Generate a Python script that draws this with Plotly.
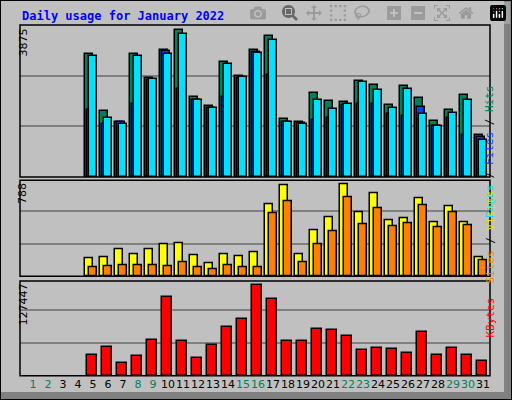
import plotly.graph_objects as go

days = list(range(1, 32))
hits = [None] * 4 + [3230, 1740, 1450, 3230, 2600, 3335, 3860, 2105, 1870, 3020, 2655, 3335,
                     3690, 1510, 1430, 2210, 2000, 1975, 2525, 2420, 1895, 2395, 2080, 1475,
                     1765, 2155, 1110]
files = [None] * 4 + [1750, 1400, 1430, 1900, 2530, 3300, 2310, 2010, 1815, 2095, 2600, 3275,
                      2665, 1430, 1405, 1485, 1540, 1880, 1920, 1900, 1660, 1590, 1835, 1345,
                      1555, 1090, 1055]
pages = [None] * 4 + [3180, 1555, 1400, 3180, 2575, 3230, 3755, 2025, 1815, 2970, 2630, 3260,
                      3600, 1430, 1400, 2025, 1775, 1920, 2500, 2290, 1815, 2315, 1660, 1345,
                      1685, 2025, 980]
visits = [None] * 4 + [154, 163, 231, 189, 231, 274, 283, 180, 111, 189, 171, 206,
                       617, 780, 189, 394, 506, 788, 548, 711, 480, 497, 668, 463,
                       600, 463, 163]
sites = [None] * 4 + [77, 86, 94, 94, 94, 86, 120, 77, 60, 94, 77, 77,
                      540, 643, 120, 274, 386, 677, 446, 583, 428, 454, 608, 420,
                      548, 437, 137]
kbytes = [None] * 4 + [28400, 39550, 17220, 27000, 49330, 110750, 47930, 24200, 42350, 68870,
                       80050, 127447, 107950, 47930, 47930, 64700, 63300, 54930, 35400, 38170,
                       36770, 31200, 60530, 28400, 38170, 28400, 20030]
weekend = [1, 2, 8, 9, 15, 16, 22, 23, 29, 30]

W, H = 512, 400
def py(p):
    return 1 - p / H

line = dict(color="black", width=1.5)
fig = go.Figure()
fig.add_bar(x=days, y=hits, offset=-0.55, width=0.55, marker=dict(color="#00805C", line=line),
            xaxis="x", yaxis="y")
fig.add_bar(x=days, y=files, offset=-0.42, width=0.55, marker=dict(color="#0040FF", line=line),
            xaxis="x", yaxis="y")
fig.add_bar(x=days, y=pages, offset=-0.27, width=0.55, marker=dict(color="#00E0FF", line=line),
            xaxis="x", yaxis="y")
fig.add_bar(x=days, y=visits, offset=-0.55, width=0.55, marker=dict(color="#FFFF00", line=line),
            xaxis="x2", yaxis="y2")
fig.add_bar(x=days, y=sites, offset=-0.27, width=0.55, marker=dict(color="#FF8000", line=line),
            xaxis="x2", yaxis="y2")
fig.add_bar(x=days, y=kbytes, offset=-0.4, width=0.67, marker=dict(color="#FF0000", line=line),
            xaxis="x3", yaxis="y3")

xr = [0.133, 31.47]
xdom = [20 / W, 490 / W]
ticktext = ["<span style='color:%s'>%d</span>" % ("#00805C" if d in weekend else "black", d)
            for d in days]
xcommon = dict(range=xr, domain=xdom, showgrid=False, zeroline=False, fixedrange=True)
ycommon = dict(showticklabels=False, gridcolor="#808080", gridwidth=1.5, zeroline=False, ticks="")

fig.update_layout(
    width=W, height=H, margin=dict(l=0, r=0, t=0, b=0),
    paper_bgcolor="#C0C0C0", plot_bgcolor="#C0C0C0",
    barmode="overlay", showlegend=False, bargap=0,
    xaxis=dict(xcommon, anchor="y", showticklabels=False),
    xaxis2=dict(xcommon, anchor="y2", showticklabels=False),
    xaxis3=dict(xcommon, anchor="y3", tickvals=days, ticktext=ticktext, ticks="", tickangle=0,
                tickfont=dict(family="DejaVu Sans", size=11)),
    yaxis=dict(ycommon, domain=[py(177), py(25)], range=[0, 3982], tickvals=[1327, 2655]),
    yaxis2=dict(ycommon, domain=[py(276.3), py(180.3)], range=[0, 823], tickvals=[280, 560]),
    yaxis3=dict(ycommon, domain=[py(375.7), py(281)], range=[0, 132600], tickvals=[46070, 92140]),
)

shapes = [
    dict(type="rect", xref="paper", yref="paper", x0=504 / W, x1=1, y0=0, y1=1,
         fillcolor="#808080", line_width=0, layer="below"),
    dict(type="rect", xref="paper", yref="paper", x0=0, x1=1, y0=0, y1=py(392),
         fillcolor="#808080", line_width=0, layer="below"),
    dict(type="rect", xref="paper", yref="paper", x0=0, x1=1, y0=0, y1=1,
         line=dict(color="black", width=2)),
]
for top, bot in [(25, 177), (180.3, 276.3), (281, 375.7)]:
    shapes.append(dict(type="rect", xref="paper", yref="paper", x0=xdom[0], x1=xdom[1],
                       y0=py(bot), y1=py(top), line=dict(color="black", width=1.5)))
fig.update_layout(shapes=shapes)

mono = "DejaVu Sans Mono"
ann = [
    dict(text="<b>Daily usage for January 2022</b>", x=20 / W, y=py(7), xanchor="left",
         yanchor="top", font=dict(family=mono, size=12, color="#0000FF")),
    dict(text="3875", x=14 / W, y=py(27), textangle=-90, yanchor="top",
         font=dict(family="DejaVu Sans", size=11, color="black")),
    dict(text="788", x=14 / W, y=py(181), textangle=-90, yanchor="top",
         font=dict(family="DejaVu Sans", size=11, color="black")),
    dict(text="127447", x=14 / W, y=py(282), textangle=-90, yanchor="top",
         font=dict(family="DejaVu Sans", size=11, color="black")),
    dict(text="<span style='color:#00E0FF'>Pages</span> / <span style='color:#0040FF'>Files</span>"
              " / <span style='color:#00805C'>Hits</span>",
         x=498 / W, y=py(83), textangle=-90, font=dict(family=mono, size=11, color="black")),
    dict(text="<span style='color:#FF8000'>Sites</span> / <span style='color:#E0E000'>Visits</span>",
         x=498 / W, y=py(237), textangle=-90, font=dict(family=mono, size=11, color="black")),
    dict(text="KBytes", x=498 / W, y=py(340), textangle=-90,
         font=dict(family=mono, size=11, color="#FF0000")),
]
for a in ann:
    a.update(xref="paper", yref="paper", showarrow=False)
fig.update_layout(annotations=ann)

fig.write_html("out.html", post_script="document.body.style.margin='0';")
